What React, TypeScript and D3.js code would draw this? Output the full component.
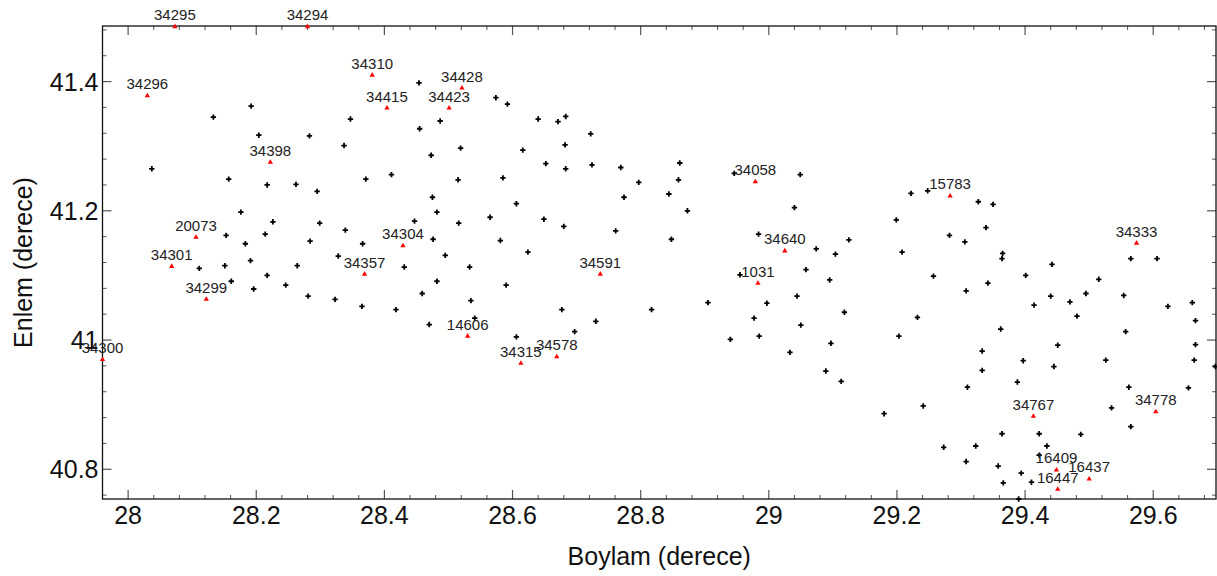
import React from "react";
import * as d3 from "d3";

// Labeled stations (red triangles)
const stationIds = ["34295","34294","34296","34310","34415","34428","34423","34398","20073","34301","34299","34300","34357","34304","34591","14606","34315","34578","34058","34640","1031","15783","34333","34767","34778","16409","16437","16447"];
const stationLon = [28.073,28.280,28.030,28.381,28.404,28.521,28.501,28.222,28.106,28.068,28.122,27.960,28.369,28.429,28.737,28.530,28.613,28.669,28.979,29.025,28.983,29.283,29.574,29.413,29.604,29.449,29.500,29.451];
const stationLat = [41.485,41.485,41.378,41.410,41.359,41.390,41.359,41.275,41.159,41.114,41.063,40.970,41.102,41.146,41.102,41.006,40.964,40.974,41.245,41.138,41.088,41.223,41.150,40.882,40.889,40.799,40.785,40.769];

// Unlabeled points (black) as [lon, lat]
const gridPoints: [number, number][] = [
  [28.192,41.362],[28.133,41.345],[28.204,41.317],[28.283,41.316],[28.347,41.342],[28.337,41.301],
  [28.037,41.265],[28.157,41.249],[28.217,41.240],[28.262,41.241],[28.295,41.230],[28.371,41.249],
  [28.176,41.198],[28.226,41.183],[28.299,41.181],[28.339,41.170],[28.153,41.162],[28.214,41.164],
  [28.183,41.149],[28.284,41.153],[28.366,41.149],[28.328,41.130],[28.191,41.123],[28.151,41.115],
  [28.264,41.115],[28.111,41.111],[28.161,41.091],[28.217,41.100],[28.196,41.079],[28.246,41.085],
  [28.281,41.068],[28.323,41.063],[28.365,41.052],
  [28.454,41.398],[28.574,41.375],[28.592,41.365],[28.640,41.342],[28.671,41.338],[28.683,41.346],
  [28.455,41.327],[28.487,41.339],[28.722,41.319],[28.519,41.297],[28.473,41.286],[28.616,41.294],
  [28.682,41.302],[28.652,41.273],[28.683,41.265],[28.724,41.271],[28.769,41.267],[28.411,41.256],
  [28.515,41.248],[28.585,41.251],[28.797,41.244],[28.475,41.221],[28.606,41.211],[28.774,41.221],
  [28.482,41.198],[28.447,41.184],[28.516,41.181],[28.565,41.190],[28.649,41.187],[28.680,41.176],
  [28.761,41.169],[28.476,41.156],[28.581,41.154],[28.624,41.136],[28.495,41.131],[28.431,41.113],
  [28.533,41.113],[28.482,41.091],[28.590,41.085],[28.459,41.072],[28.535,41.061],[28.418,41.047],
  [28.677,41.047],[28.817,41.047],[28.470,41.024],[28.541,41.034],[28.606,41.005],[28.697,41.013],
  [28.730,41.029],
  [28.861,41.274],[28.859,41.248],[28.844,41.226],[28.873,41.200],[28.848,41.156],[28.946,41.258],
  [29.049,41.256],[29.040,41.205],[28.984,41.164],[29.074,41.141],[29.104,41.133],[29.125,41.155],
  [29.199,41.186],[29.222,41.227],[29.248,41.231],[29.208,41.136],[29.058,41.109],
  [28.955,41.101],[29.095,41.093],[29.257,41.099],[28.905,41.058],[28.997,41.057],[29.044,41.068],
  [29.118,41.043],[28.977,41.034],[29.050,41.023],[29.232,41.035],[28.940,41.001],[28.985,41.006],
  [29.097,40.995],[29.203,41.006],[29.033,40.981],[29.089,40.952],[29.113,40.936],[29.180,40.886],
  [29.241,40.898],
  [29.327,41.214],[29.350,41.210],[29.339,41.174],[29.282,41.162],[29.306,41.152],[29.365,41.134],
  [29.364,41.126],[29.442,41.117],[29.565,41.126],[29.606,41.126],
  [29.401,41.100],[29.342,41.088],[29.308,41.076],[29.515,41.094],[29.440,41.068],[29.495,41.072],
  [29.554,41.069],[29.414,41.054],[29.470,41.059],[29.623,41.052],[29.661,41.058],[29.481,41.037],
  [29.666,41.030],[29.362,41.017],[29.557,41.013],[29.333,40.983],[29.451,40.992],[29.666,40.993],
  [29.397,40.968],[29.333,40.953],[29.445,40.959],[29.526,40.969],[29.664,40.969],[29.697,40.959],
  [29.388,40.935],[29.310,40.927],[29.562,40.927],[29.655,40.926],[29.535,40.895],[29.565,40.866],
  [29.364,40.855],[29.422,40.855],[29.487,40.854],[29.273,40.834],[29.323,40.836],[29.434,40.836],
  [29.308,40.812],[29.358,40.805],[29.422,40.822],[29.394,40.794],[29.366,40.779],[29.410,40.780],
  [29.390,40.754]
];

const xMajor = [28, 28.2, 28.4, 28.6, 28.8, 29, 29.2, 29.4, 29.6];
const yMajor = [40.8, 41, 41.2, 41.4];
const xDomain: [number, number] = [27.96, 29.698];
const yDomain: [number, number] = [40.754, 41.486];
const minorStep = 0.04;

const W = 1217, H = 576;
const L = 102.5, R = 1216, T = 26, B = 499;

export default function App() {
  const x = d3.scaleLinear().domain(xDomain).range([L, R]);
  const y = d3.scaleLinear().domain(yDomain).range([B, T]);
  const fmt = (v: number) => String(+v.toFixed(1));

  const xMinor: number[] = [];
  for (let v = 27.96; v <= xDomain[1] + 1e-9; v += minorStep) xMinor.push(+v.toFixed(2));
  const yMinor: number[] = [];
  for (let v = 40.76; v <= yDomain[1] + 1e-9; v += minorStep) yMinor.push(+v.toFixed(2));
  const isMajor = (v: number, arr: number[]) => arr.some(a => Math.abs(a - v) < 1e-6);

  const cross = d3.symbol().type(d3.symbolCross).size(16)()!;
  const tri = d3.symbol().type(d3.symbolTriangle).size(12)()!;
  const font = "Liberation Sans, Arial, Helvetica, sans-serif";
  const tickColor = "#555";

  return (
    <svg width={W} height={H} style={{ position: "absolute", left: 0, top: 0, background: "#fff" }} fontFamily={font}>
      {/* minor ticks */}
      {xMinor.filter(v => !isMajor(v, xMajor)).map((v, i) => (
        <g key={"xm" + i} stroke={tickColor} strokeWidth={1}>
          <line x1={x(v)} x2={x(v)} y1={B} y2={B - 4} />
          <line x1={x(v)} x2={x(v)} y1={T} y2={T + 4} />
        </g>
      ))}
      {yMinor.filter(v => !isMajor(v, yMajor)).map((v, i) => (
        <g key={"ym" + i} stroke={tickColor} strokeWidth={1}>
          <line x1={L} x2={L + 4} y1={y(v)} y2={y(v)} />
          <line x1={R} x2={R - 4} y1={y(v)} y2={y(v)} />
        </g>
      ))}
      {/* major ticks */}
      {xMajor.map((v, i) => (
        <g key={"xM" + i} stroke={tickColor} strokeWidth={1.2}>
          <line x1={x(v)} x2={x(v)} y1={B} y2={B - 9} />
          <line x1={x(v)} x2={x(v)} y1={T} y2={T + 9} />
        </g>
      ))}
      {yMajor.map((v, i) => (
        <g key={"yM" + i} stroke={tickColor} strokeWidth={1.2}>
          <line x1={L} x2={L + 9} y1={y(v)} y2={y(v)} />
          <line x1={R} x2={R - 9} y1={y(v)} y2={y(v)} />
        </g>
      ))}
      {/* frame */}
      <rect x={L} y={T} width={R - L} height={B - T} fill="none" stroke="#111" strokeWidth={1.3} />

      {/* tick labels */}
      {xMajor.map((v, i) => (
        <text key={"xl" + i} x={x(v)} y={524} textAnchor="middle" fontSize={25} fill="#111">{fmt(v)}</text>
      ))}
      {yMajor.map((v, i) => (
        <text key={"yl" + i} x={98.5} y={y(v)} dy="0.36em" textAnchor="end" fontSize={25} fill="#111">{fmt(v)}</text>
      ))}

      {/* axis titles */}
      <text x={(L + R) / 2} y={565} textAnchor="middle" fontSize={25} fill="#111">Boylam (derece)</text>
      <text transform={`translate(32,${(T + B) / 2}) rotate(-90)`} textAnchor="middle" fontSize={25} fill="#111">Enlem (derece)</text>

      {/* black points */}
      {gridPoints.map((p, i) => (
        <path key={"g" + i} d={cross} transform={`translate(${x(p[0])},${y(p[1])})`} fill="#000" />
      ))}

      {/* red stations */}
      {stationIds.map((id, i) => (
        <g key={"s" + i}>
          <path d={tri} transform={`translate(${x(stationLon[i])},${y(stationLat[i])})`} fill="#ff0000" />
          <text x={x(stationLon[i])} y={y(stationLat[i]) - 6.5} textAnchor="middle" fontSize={15} fill="#222">{id}</text>
        </g>
      ))}
    </svg>
  );
}
